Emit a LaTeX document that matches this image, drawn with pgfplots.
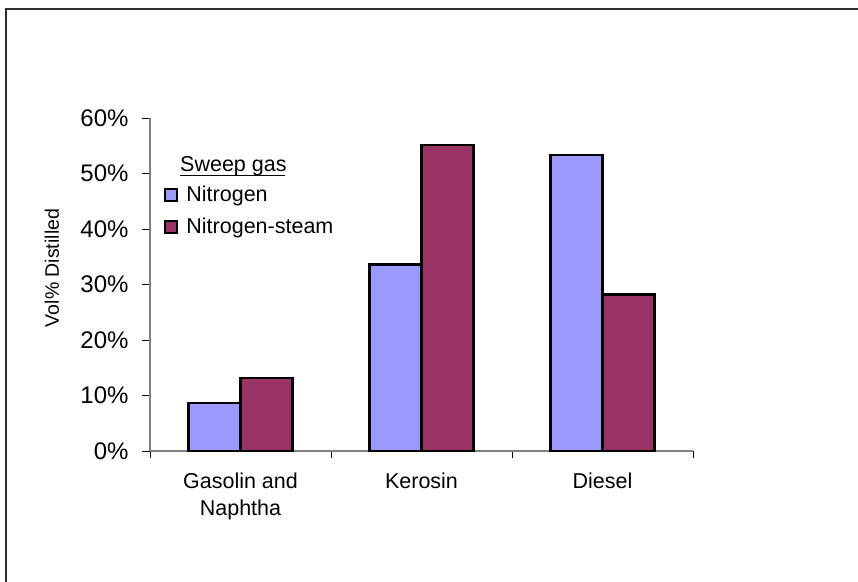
\documentclass[border=0pt]{standalone}
\usepackage{fontspec}
\setmainfont{Liberation Sans}
\usepackage{pgfplots}
\pgfplotsset{compat=1.18}

\definecolor{nitro}{RGB}{153,153,255}
\definecolor{steam}{RGB}{153,51,102}
\definecolor{axisgray}{RGB}{128,128,128}
\definecolor{framegray}{RGB}{45,45,45}

\pgfplotstableread{
idx  nitrogen  steam
0    8.7       13.2
1    33.6      55.1
2    53.3      28.2
}\distilled

\begin{document}
\begin{tikzpicture}[x=1pt,y=1pt]
\path[use as bounding box] (0,0) rectangle (858,581);
% chart frame (left and top edges)
\draw[framegray, line width=1.8pt] (6,-5) -- (6,572) -- (863,572);

\begin{axis}[
  at={(150pt,130pt)}, anchor=south west,
  scale only axis, width=543pt, height=333pt,
  ybar=0pt, bar width=52pt,
  xmin=-0.5, xmax=2.5, ymin=0, ymax=60,
  axis lines*=left,
  axis line style={axisgray, line width=1.2pt},
  tick align=outside,
  xtick={0,1,2},
  xticklabels={{Gasolin and\\Naphtha},Kerosin,Diesel},
  major x tick style={draw=none},
  minor xtick={-0.5,0.5,1.5,2.5},
  minor tick length=7pt,
  minor x tick style={black, line width=0.8pt},
  ytick={0,10,...,60},
  major tick length=8pt,
  major y tick style={black, line width=0.8pt},
  yticklabel={\pgfmathtruncatemacro{\t}{\tick}\t\%},
  yticklabel style={font=\fontsize{24}{28}\selectfont, xshift=-10pt},
  xticklabel style={font=\fontsize{21.5}{27}\selectfont, align=center, yshift=-10pt},
  every axis plot post/.append style={line width=2.2pt},
  legend style={draw=none, fill=none, at={(rel axis cs:0.0258,0.8048)}, anchor=north west,
    font=\fontsize{21.5}{26}\selectfont, inner sep=0pt, row sep=9pt,
    nodes={inner sep=3pt},
    /tikz/every odd column/.append style={column sep=5pt}},
  legend cell align=left,
  legend image code/.code={\draw[#1, draw=black, line width=2.2pt] (0pt,-6pt) rectangle (12pt,6pt);},
  clip=false,
]
\addplot[fill=nitro, draw=black] table[x=idx, y=nitrogen] {\distilled};
\addplot[fill=steam, draw=black] table[x=idx, y=steam] {\distilled};
\legend{Nitrogen, Nitrogen-steam}
\end{axis}

% legend heading
\node[anchor=base west, inner sep=0pt, font=\fontsize{21.5}{26}\selectfont] (hd) at (180,409) {Sweep gas};
\draw[black, line width=1.3pt] (hd.base west) ++(0,-3.5) -- ++(105,0);
\node[rotate=90, font=\fontsize{19.5}{24}\selectfont] at (52,313) {Vol\% Distilled};
\end{tikzpicture}
\end{document}
